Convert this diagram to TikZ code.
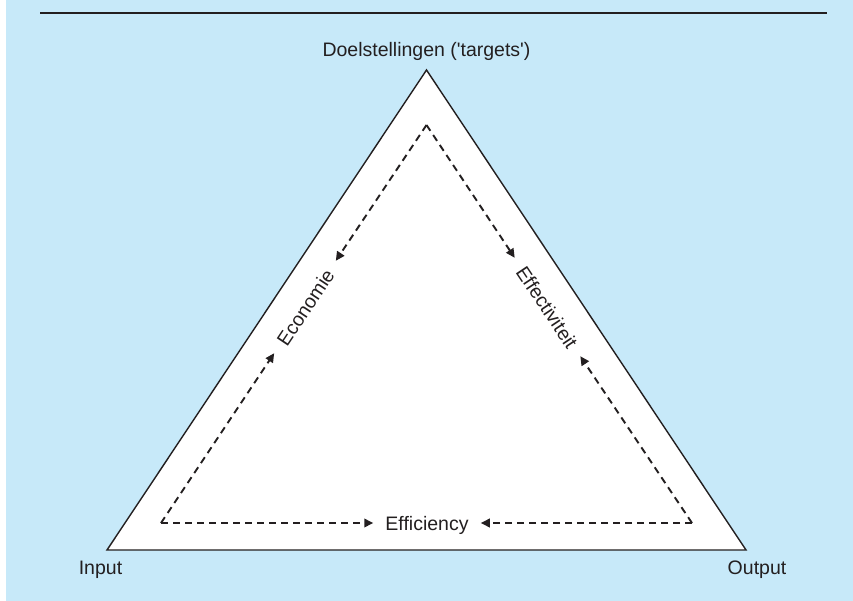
\documentclass[tikz,border=0pt]{standalone}
\usepackage{fontspec}
\setmainfont{Liberation Sans}
\usetikzlibrary{arrows.meta}
\definecolor{bgblue}{RGB}{199,233,249}
\definecolor{ink}{RGB}{35,31,32}
\begin{document}
\begin{tikzpicture}[x=1pt,y=-1pt,
  lbl/.style={font=\fontsize{19.5}{23}\selectfont, text=ink, inner sep=0pt},
  side/.style={lbl, inner xsep=12pt, inner ysep=0pt, text height=15pt, text depth=0pt},
  flow/.style={draw=ink, line width=1.9pt, dash pattern=on 7pt off 5pt,
    -{Triangle[length=9pt,width=8.5pt]}},
  edge/.style={draw=ink, line width=1.4pt, line join=miter},
]
\useasboundingbox (0,0) rectangle (853,601);
\fill[bgblue] (6,0) rectangle (853,601);
% rule at the top
\coordinate (rl) at (40,13);
\coordinate (rr) at (827,13);
\draw[ink, line width=2.2pt] (rl) -- (rr);
% outer triangle
\coordinate (T) at (426.5,70);
\coordinate (L) at (107,550);
\coordinate (R) at (746,550);
\draw[edge, fill=white] (T) -- (L) -- (R) -- cycle;
% inner corners
\coordinate (ti) at (426.5,125);
\coordinate (li) at (161,523);
\coordinate (ri) at (692,523);
% labels
\node[lbl, anchor=base] (doel) at (426.5,57) {Doelstellingen (\textquotesingle targets\textquotesingle)};
\node[lbl, anchor=base] (inp) at (100.5,574) {Input};
\node[lbl, anchor=base] (outp) at (757,574) {Output};
\node[side] (eff) at (427,523) {Efficiency};
\node[side, rotate=56.31] (eco) at (305,307) {Economie};
\node[side, rotate=-56.31] (effv) at (547.5,307) {Effectiviteit};
% dashed flows
\draw[flow] (li) -- (eff.west);
\draw[flow] (ri) -- (eff.east);
\draw[flow] (li) -- (eco.west);
\draw[flow] (ti) -- (eco.east);
\draw[flow] (ti) -- (effv.west);
\draw[flow] (ri) -- (effv.east);
\end{tikzpicture}
\end{document}
